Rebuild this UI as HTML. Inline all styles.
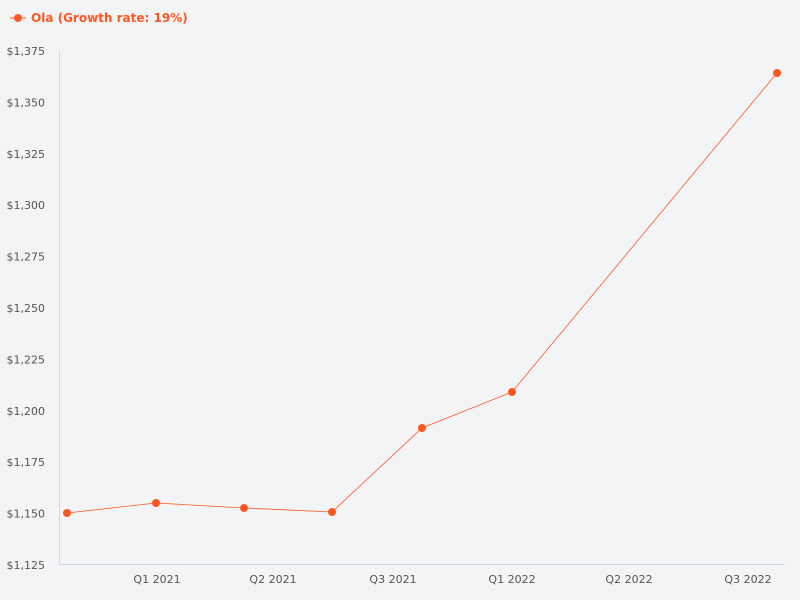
<!DOCTYPE html>
<html><head><meta charset="utf-8"><style>
html,body{margin:0;padding:0;background:#f3f4f6;}
svg{display:block;font-family:"DejaVu Sans","Liberation Sans",sans-serif;}
</style></head><body>
<svg width="800" height="600" viewBox="0 0 800 600">
<rect width="800" height="600" fill="#f3f4f6"/>
<line x1="10" y1="18" x2="26" y2="18" stroke="#ff5722" stroke-width="1"/>
<circle cx="18" cy="18" r="4" fill="#ff5722"/>
<text x="31" y="22" font-size="12" font-weight="bold" fill="#ff5722">Ola (Growth rate: 19%)</text>
<line x1="59.5" y1="51" x2="59.5" y2="565" stroke="#d0d7e2"/>
<line x1="59" y1="564.5" x2="785" y2="564.5" stroke="#d0d7e2"/>
<g font-size="11" fill="#555" text-anchor="end">
<text x="45" y="55">$1,375</text>
<text x="45" y="106.4">$1,350</text>
<text x="45" y="157.8">$1,325</text>
<text x="45" y="209.2">$1,300</text>
<text x="45" y="260.6">$1,275</text>
<text x="45" y="312">$1,250</text>
<text x="45" y="363.4">$1,225</text>
<text x="45" y="414.8">$1,200</text>
<text x="45" y="466.2">$1,175</text>
<text x="45" y="517.6">$1,150</text>
<text x="45" y="569">$1,125</text>
</g>
<g font-size="11" fill="#555" text-anchor="middle">
<text x="157" y="583">Q1 2021</text>
<text x="273" y="583">Q2 2021</text>
<text x="393" y="583">Q3 2021</text>
<text x="512" y="583">Q1 2022</text>
<text x="629" y="583">Q2 2022</text>
<text x="748" y="583">Q3 2022</text>
</g>
<polyline points="67,513 156,503 244,508 332,512 422,428 512,392 777,73" fill="none" stroke="#ff5722" stroke-width="0.8"/>
<g fill="#ff5722">
<circle cx="67" cy="513" r="4"/><circle cx="156" cy="503" r="4"/><circle cx="244" cy="508" r="4"/>
<circle cx="332" cy="512" r="4"/><circle cx="422" cy="428" r="4"/><circle cx="512" cy="392" r="4"/>
<circle cx="777" cy="73" r="4"/>
</g>
</svg>
</body></html>
